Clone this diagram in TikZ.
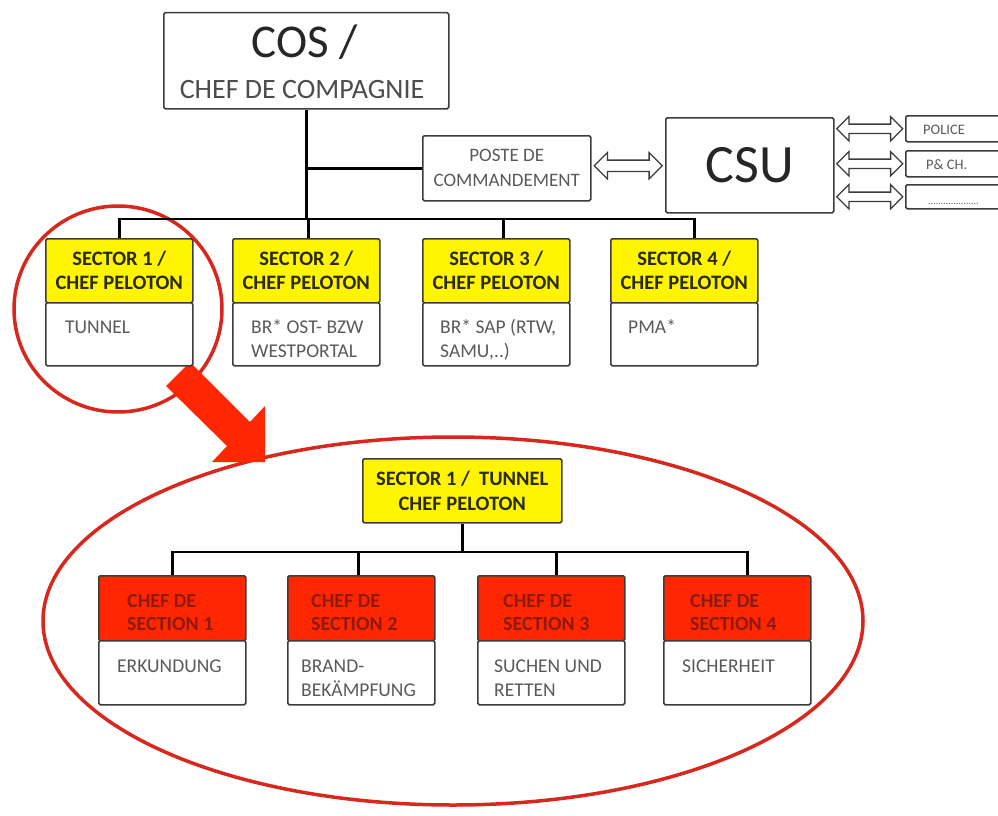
\documentclass[tikz,border=0pt]{standalone}
\usepackage{fontspec}
\setmainfont{Carlito}
\usetikzlibrary{shapes.arrows,calc}
\definecolor{ylw}{HTML}{FFF500}
\definecolor{redbox}{HTML}{FF2600}
\definecolor{redtxt}{HTML}{8C1A0E}
\definecolor{graytxt}{HTML}{5A5A5A}
\definecolor{ring}{HTML}{D8281E}
\definecolor{bdr}{HTML}{3C3C3C}
\definecolor{ytxt}{HTML}{2A2A05}
\newcommand\mylines[1]{\begin{tabular}[t]{@{}l@{}}#1\end{tabular}}
\begin{document}
\begin{tikzpicture}[x=1pt,y=-1pt,
  box/.style={draw=bdr,line width=1.5pt,rounded corners=1.5pt,inner sep=0pt,anchor=north west},
  ybox/.style={box,fill=ylw,minimum width=147pt,minimum height=64pt,align=center,
    font=\fontsize{20.5}{24}\selectfont\bfseries,text=ytxt},
  wbox/.style={box,fill=white,minimum width=147pt,minimum height=63pt},
  rbox/.style={box,fill=redbox,minimum width=147pt,minimum height=65pt},
  wtext/.style={anchor=base west,inner sep=0pt,text=graytxt,font=\fontsize{19.5}{24}\selectfont},
  rtext/.style={anchor=base west,inner sep=0pt,text=redtxt,font=\fontsize{20}{23}\selectfont\bfseries},
  conn/.style={line width=2.6pt,black},
  darrow/.style={double arrow,draw=bdr,line width=1.3pt,fill=white,double arrow head extend=7.5pt},
  ring/.style={draw=ring,line width=3.5pt}]
\useasboundingbox (0,0) rectangle (998,816);
\fill[white] (0,0) rectangle (998,816);

% rings
\draw[ring] (118,309) ellipse [x radius=104pt, y radius=103pt];
\draw[ring] (453,621) ellipse [x radius=410pt, y radius=184pt];
\fill[redbox] (166,386) -- (190,362) -- (250,422) -- (265,406) -- (265,462) -- (212,462) -- (227,446) -- cycle;

% COS
\node[box,fill=white,minimum width=285pt,minimum height=96pt] (cos) at (163,12) {};
\node[anchor=base,inner sep=0pt,font=\fontsize{47}{50}\selectfont,text=black!85] (costitle) at (305,58) {COS /};
\node[anchor=base,inner sep=0pt,font=\fontsize{28}{30}\selectfont,text=black!70] (cossub) at (302,98) {CHEF DE COMPAGNIE};

% Poste / CSU
\node[box,fill=white,minimum width=168pt,minimum height=65pt,align=center,
  font=\fontsize{19}{25}\selectfont,text=graytxt] (poste) at (422,135) {POSTE DE\\COMMANDEMENT};
\node[box,fill=white,minimum width=168pt,minimum height=95pt,
  font=\fontsize{54}{58}\selectfont,text=black!85] (csu) at (665,117) {CSU};
\node[box,fill=white,minimum width=100pt,minimum height=26pt] (police) at (905,115) {};
\node[box,fill=white,minimum width=100pt,minimum height=26pt] (pch) at (905,150) {};
\node[box,fill=white,minimum width=100pt,minimum height=24pt] (other) at (905,184) {};
\node[anchor=base west,inner sep=0pt,font=\fontsize{14.5}{16}\selectfont,text=graytxt] (policet) at (923,134) {POLICE};
\node[anchor=base west,inner sep=0pt,font=\fontsize{14.5}{16}\selectfont,text=graytxt] (pcht) at (926,169) {P\& CH.};
\node[anchor=base west,inner sep=0pt,font=\fontsize{10}{11}\selectfont,text=graytxt] (othert) at (928,204) {....................};

\node[darrow,minimum height=68pt,inner sep=5pt] (a1) at ($(poste.east)!0.5!(csu.west)+(0,-1)$) {};
\node[darrow,minimum height=66pt,inner sep=4pt] (a2) at ($(csu.east |- police.west)!0.5!(police.west)$) {};
\node[darrow,minimum height=66pt,inner sep=4pt] (a3) at ($(csu.east |- pch.west)!0.5!(pch.west)$) {};
\node[darrow,minimum height=66pt,inner sep=4pt] (a4) at ($(csu.east |- other.west)!0.5!(other.west)$) {};

% Sectors
\node[ybox] (s1t) at (45,238) {SECTOR 1 /\\CHEF PELOTON};
\node[wbox] (s1b) at (45,302) {};
\node[wtext] (s1x) at (65,333) {\mylines{TUNNEL}};
\node[ybox] (s2t) at (232,238) {SECTOR 2 /\\CHEF PELOTON};
\node[wbox] (s2b) at (232,302) {};
\node[wtext] (s2x) at (251,333) {\mylines{BR* OST- BZW\\WESTPORTAL}};
\node[ybox] (s3t) at (422,238) {SECTOR 3 /\\CHEF PELOTON};
\node[wbox] (s3b) at (422,302) {};
\node[wtext] (s3x) at (440,333) {\mylines{BR* SAP (RTW,\\SAMU,..)}};
\node[ybox] (s4t) at (610,238) {SECTOR 4 /\\CHEF PELOTON};
\node[wbox] (s4b) at (610,302) {};
\node[wtext] (s4x) at (628,333) {\mylines{PMA*}};

\coordinate (bar) at (0,219);
\draw[conn] (cos.south) -- (cos.south |- bar);
\draw[conn] (poste.west) -- (poste.west -| cos.south);
\draw[conn] (s1t.north) -- (s1t.north |- bar) -- ([xshift=10pt]s4t.north |- bar) -- ([xshift=10pt]s4t.north);
\draw[conn] ([xshift=2pt]s2t.north) -- ([xshift=2pt]s2t.north |- bar);
\draw[conn] ([xshift=7pt]s3t.north) -- ([xshift=7pt]s3t.north |- bar);

% Lower part
\node[box,fill=ylw,minimum width=199pt,minimum height=64pt,align=center,
  font=\fontsize{20.5}{25}\selectfont\bfseries,text=ytxt] (tunnel) at (362,458) {SECTOR 1 /\ \ TUNNEL\\CHEF PELOTON};

\node[rbox] (r1t) at (98,575) {};
\node[wbox,minimum height=64pt] (r1b) at (98,640) {};
\node[rtext] (r1x) at (127,607) {\mylines{CHEF DE\\SECTION 1}};
\node[wtext] (r1y) at (117,672) {\mylines{ERKUNDUNG}};
\node[rbox] (r2t) at (287,575) {};
\node[wbox,minimum height=64pt] (r2b) at (287,640) {};
\node[rtext] (r2x) at (311,607) {\mylines{CHEF DE\\SECTION 2}};
\node[wtext] (r2y) at (301,672) {\mylines{BRAND-\\BEKÄMPFUNG}};
\node[rbox] (r3t) at (477,575) {};
\node[wbox,minimum height=64pt] (r3b) at (477,640) {};
\node[rtext] (r3x) at (503,607) {\mylines{CHEF DE\\SECTION 3}};
\node[wtext] (r3y) at (494,672) {\mylines{SUCHEN UND\\RETTEN}};
\node[rbox] (r4t) at (663,575) {};
\node[wbox,minimum height=64pt] (r4b) at (663,640) {};
\node[rtext] (r4x) at (690,607) {\mylines{CHEF DE\\SECTION 4}};
\node[wtext] (r4y) at (682,672) {\mylines{SICHERHEIT}};

\coordinate (bar2) at (0,552);
\draw[conn] (tunnel.south) -- (tunnel.south |- bar2);
\draw[conn] (r1t.north) -- (r1t.north |- bar2) -- ([xshift=10pt]r4t.north |- bar2) -- ([xshift=10pt]r4t.north);
\draw[conn] ([xshift=-3pt]r2t.north) -- ([xshift=-3pt]r2t.north |- bar2);
\draw[conn] ([xshift=5pt]r3t.north) -- ([xshift=5pt]r3t.north |- bar2);
\end{tikzpicture}
\end{document}
